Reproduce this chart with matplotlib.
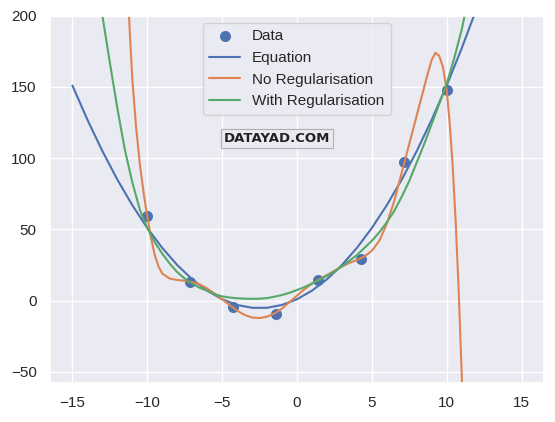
import numpy as np
import seaborn as sns
from matplotlib import pyplot as plt

sns.set_theme()
plt.rcParams['font.family'] = ['Liberation Sans', 'DejaVu Sans']

# data points
data_x = [-10.0, -7.14, -4.29, -1.43, 1.43, 4.29, 7.14, 10.0]
data_y = [59.7, 13.4, -4.2, -9.4, 14.8, 29.3, 97.0, 147.9]

# "Equation" curve
eq_x = [-15, -14, -13, -12, -11, -10, -9, -8, -7, -6, -5, -4, -3, -2, -1,
        0, 1, 2, 3, 4, 5, 6, 7, 8, 9, 10, 11, 12]
eq_y = [151, 127, 105, 85, 67, 51, 37, 25, 15, 7, 1, -3, -5, -5, -3,
        1, 7, 15, 25, 37, 51, 67, 85, 105, 127, 151, 177, 205]

# no regularisation fit
noreg_x = [-11.3, -11.2, -11.0, -10.75, -10.5, -10.25, -10.0, -9.75, -9.5, -9.25,
           -9.0, -8.5, -8.0, -7.5, -7.0, -6.5, -6.0, -5.5, -5.0, -4.5, -4.0,
           -3.5, -3.0, -2.5, -2.0, -1.5, -1.0, -0.5, 0.0, 0.5, 1.0, 1.5, 2.0,
           2.5, 3.0, 3.5, 4.0, 4.5, 5.0, 5.5, 6.0, 6.5, 7.0, 7.5, 8.0, 8.5,
           8.75, 9.0, 9.25, 9.5, 9.75, 10.0, 10.2, 10.4, 10.6, 10.8, 11.0, 11.1]
noreg_y = [218, 195, 155, 122, 96, 76, 59, 44, 32, 24,
           19, 15.5, 14.5, 14, 13, 11.5, 8.5, 5, 1, -3, -7,
           -10, -11.8, -12.2, -11.2, -9, -5.5, -1, 3.5, 8, 12, 15, 18,
           21, 24, 26.5, 28.5, 31, 35, 42, 54, 70, 90, 110, 130, 150,
           160, 169, 174, 172, 164, 148, 125, 95, 56, 8, -50, -80]

# with regularisation fit
reg_x = [-13.0, -12.5, -12.0, -11.5, -11.0, -10.5, -10.0, -9.5, -9.0, -8.5,
         -8.0, -7.5, -7.0, -6.5, -6.0, -5.5, -5.0, -4.5, -4.0, -3.5, -3.0,
         -2.5, -2.0, -1.5, -1.0, -0.5, 0.0, 0.5, 1.0, 1.5, 2.0, 2.5, 3.0,
         3.5, 4.0, 4.5, 5.0, 5.5, 6.0, 6.5, 7.0, 7.5, 8.0, 8.5, 9.0, 9.5,
         10.0, 10.5, 11.0, 11.3]
reg_y = [200, 167, 135, 106, 83, 64, 51, 41, 33, 26,
         20, 15.5, 12, 9, 7, 4.5, 3, 2.2, 1.7, 1.4, 1.3,
         1.4, 1.8, 2.8, 4, 5.5, 7.5, 9.5, 12, 14.5, 17.5, 20.5, 24,
         28, 32, 37, 42, 48, 55, 63, 73, 84, 97, 110, 124, 138,
         152, 170, 190, 205]

fig = plt.figure(figsize=(5.55, 4.22), dpi=100)
ax = fig.add_axes([0.0901, 0.0917, 0.890, 0.871])

ax.scatter(data_x, data_y, s=48, label='Data')
ax.plot(eq_x, eq_y, label='Equation')
ax.plot(noreg_x, noreg_y, label='No Regularisation')
ax.plot(reg_x, reg_y, label='With Regularisation')

ax.set_xlim(-16.5, 16.5)
ax.set_ylim(-58, 200)
ax.legend(loc='upper center')

# watermark
fig.text(0.499, 0.672, 'DATAYAD.COM', ha='center', va='center',
         fontsize=9.5, fontweight='heavy', color='#222222',
         family=['DejaVu Sans'],
         bbox=dict(boxstyle='square,pad=0.2', facecolor='#eaeaf2',
                   edgecolor='#b0b0b0', linewidth=0.8))

fig.savefig('out.png', dpi=100)
